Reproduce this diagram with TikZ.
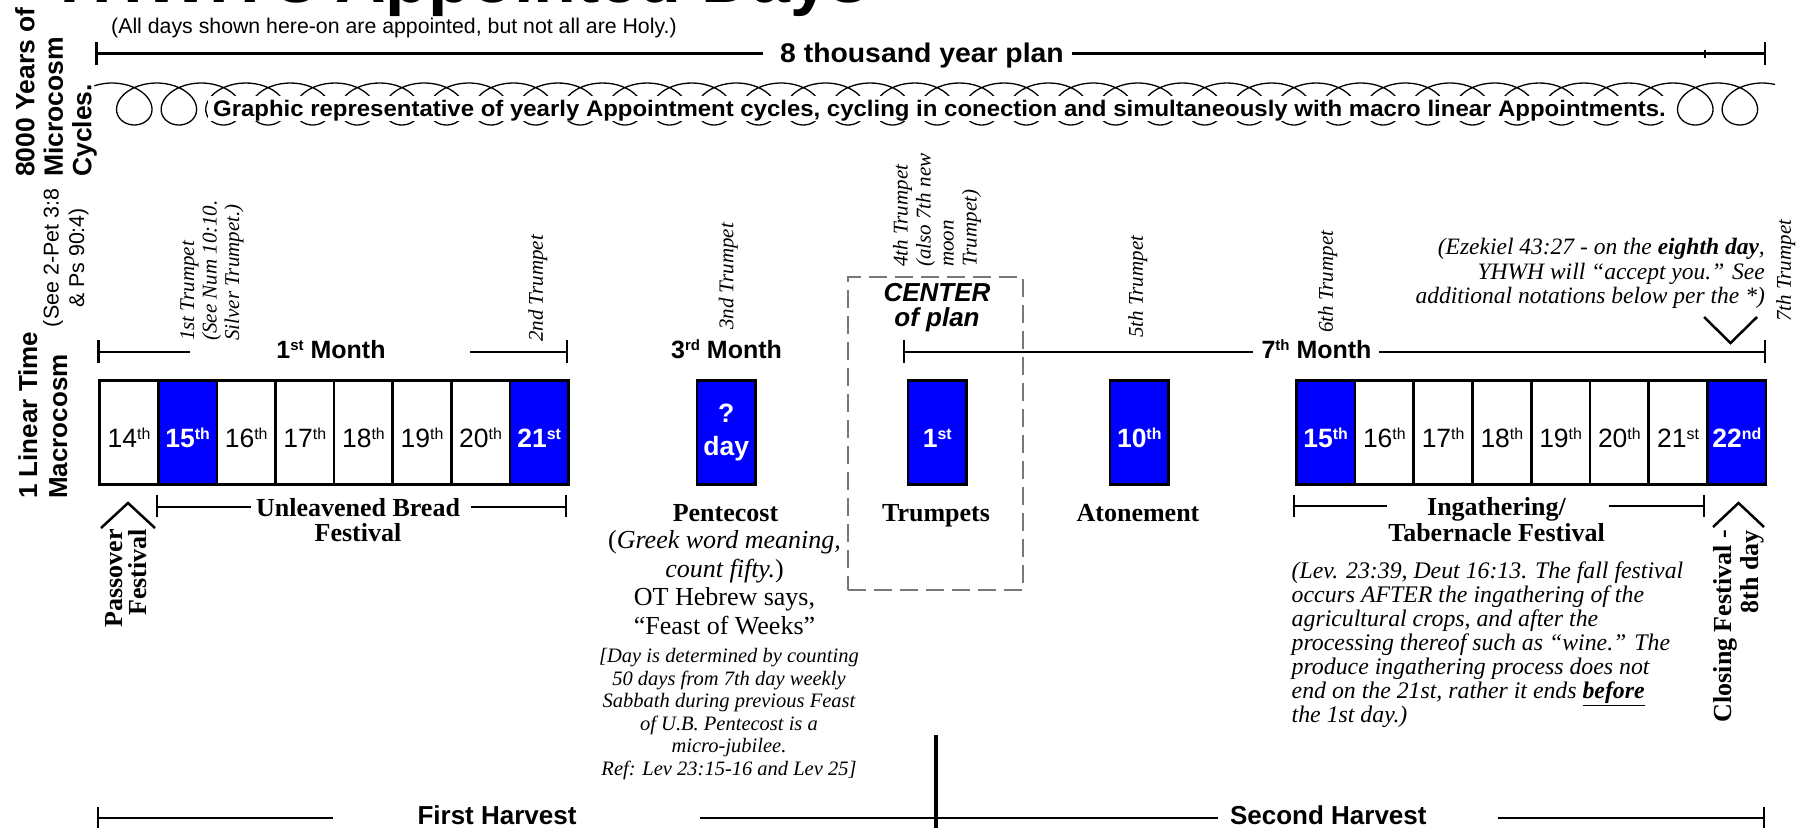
\documentclass[tikz,border=0pt]{standalone}
\usepackage{fontspec}
\usepackage{graphicx}
\setmainfont{Liberation Serif}
\newfontfamily\arialf{Liberation Sans}
\definecolor{dayblue}{RGB}{0,0,255}
\definecolor{framegray}{RGB}{120,120,120}
\newcommand{\fs}[2]{\fontsize{#1}{#2}\selectfont}
\newcommand{\sps}[1]{\raisebox{0.31em}{\scalebox{0.6}{#1}}}
\tikzset{
  brk/.style={line width=2.5pt},
  daybox/.style={draw=black, line width=2.5pt, minimum width=58.7pt, minimum height=104pt, inner sep=0pt, anchor=north west, text height=30pt, text depth=0pt, font=\arialf\fs{26.5}{30}},
  holybox/.style={daybox, fill=dayblue, text=white, font=\arialf\bfseries\fs{26.5}{30}},
  trump/.style={rotate=90, anchor=north west, inner sep=0pt, align=left, font=\itshape\fs{21}{22.5}},
  month/.style={anchor=base, inner sep=0pt, font=\arialf\bfseries\fs{25}{30}},
  feast/.style={anchor=base, inner sep=0pt, font=\bfseries\fs{26}{26}},
  harvest/.style={anchor=base, inner sep=0pt, font=\arialf\bfseries\fs{26}{28}},
}
\begin{document}
\begin{tikzpicture}[x=1pt,y=-1pt]
\useasboundingbox (0,0) rectangle (1798,828);
\fill[white] (0,0) rectangle (1798,828);

% title and subtitle
\node[anchor=base west, inner sep=0pt, font=\arialf\bfseries\fs{68}{70}] (title) at (46,2.5) {\scalebox{1.03}[1]{YHWH’s Appointed Days}};
\node[anchor=base west, inner sep=0pt, font=\arialf\fs{21.3}{24}] (subtitle) at (111,33) {(All days shown here-on are appointed, but not all are Holy.)};

% left side labels
\node[rotate=90, anchor=north west, inner sep=0pt, align=left, font=\arialf\bfseries\fs{26.5}{28.5}] (micro) at (15,177) {8000 Years of\\Microcosm\\Cycles.};
\node[rotate=90, anchor=north west, inner sep=0pt, align=left, font=\arialf\bfseries\fs{26}{30}] (linear) at (18,499) {1 Linear Time\\Macrocosm};
\node[rotate=90, anchor=north, inner sep=0pt, align=center, font=\arialf\fs{21.4}{25.5}] (seepet) at (43,258) {(See 2-Pet 3:8\\\& Ps 90:4)};

% 8 thousand year plan bracket
\coordinate (pL) at (96.4,53.5);
\coordinate (pA) at (763,53.5);
\coordinate (pB) at (1072,53.5);
\coordinate (pM) at (1705,53.5);
\coordinate (pR) at (1765,53.5);
\node[anchor=base, inner sep=0pt, font=\arialf\bfseries\fs{27}{30}] (plan) at (922,62) {\scalebox{1.05}[1]{8 thousand year plan}};
\draw[brk] (pL) -- (pA) (pB) -- (pR);
\draw[brk] ([yshift=11.5pt]pL) -- ([yshift=-11.5pt]pL);
\draw[brk] ([yshift=11.5pt]pR) -- ([yshift=-11.5pt]pR);
\draw[line width=1.2pt] ([yshift=4pt]pM) -- ([yshift=-4pt]pM);

% coil of yearly cycles
\begin{scope}
\clip (0,0) rectangle (1775,828);
\draw[line width=1.3pt] plot[domain=-30:13400, samples=1600] ({112+0.123889*\x+28*sin(\x)},{104-21*cos(\x)});
\end{scope}
\node[fill=white, inner xsep=5pt, inner ysep=0pt, minimum height=25pt, text height=17pt, text depth=1pt, font=\arialf\bfseries\fs{22.5}{26}] (graphic) at (939.5,108.5) {\scalebox{1.065}[1]{Graphic representative of yearly Appointment cycles, cycling in conection and simultaneously with macro linear Appointments.}};

% trumpets
\node[trump] (t1) at (180,341) {1st Trumpet\\(See Num 10:10.\\Silver Trumpet.)};
\node[trump] (t2) at (528,342) {2nd Trumpet};
\node[trump] (t3) at (718.6,330) {3nd Trumpet};
\node[trump, font=\itshape\fs{21}{23}] (t4) at (892.8,267) {4th Trumpet\\(also 7th new\\moon\\Trumpet)};
\node[trump] (t5) at (1128,338) {5th Trumpet};
\node[trump] (t6) at (1318,333) {6th Trumpet};
\node[trump] (t7) at (1776,322) {7th Trumpet};

% Ezekiel note
\node[anchor=north east, inner sep=0pt, align=right, font=\itshape\fs{23.5}{24.5}] (ezek) at (1765,238) {(Ezekiel 43:27 - on the \textbf{eighth day},\\YHWH will “accept you.” See\\additional notations below per the *)};
\coordinate (vA) at (1704,317);
\coordinate (vB) at (1730.5,343);
\coordinate (vC) at (1757,317);
\draw[brk] (vA) -- (vB) -- (vC);

% center frame
\node[draw=framegray, dash pattern=on 18pt off 8pt, line width=2.5pt, minimum width=175pt, minimum height=313pt, inner sep=0pt] (frame) at (935.5,433.5) {};
\node[anchor=north, inner sep=0pt, align=center, font=\arialf\bfseries\itshape\fs{26}{25}] (centerlbl) at (937,283.4) {CENTER\\of plan};

% month brackets
\coordinate (m1L) at (98.4,352);
\coordinate (m1a) at (190,352);
\coordinate (m1b) at (470,352);
\coordinate (m1R) at (567,352);
\node[month] (m1) at (331,358.5) {1\sps{st} Month};
\draw[brk] (m1L) -- (m1a) (m1b) -- (m1R);
\draw[brk] ([yshift=12pt]m1L) -- ([yshift=-11pt]m1L);
\draw[brk] ([yshift=12pt]m1R) -- ([yshift=-11pt]m1R);
\node[month] (m3) at (726.5,358.5) {3\sps{rd} Month};
\coordinate (m7L) at (904,352);
\coordinate (m7a) at (1253,352);
\coordinate (m7b) at (1379,352);
\coordinate (m7R) at (1765,352);
\node[month] (m7) at (1316.5,358.5) {7\sps{th} Month};
\draw[brk] (m7L) -- (m7a) (m7b) -- (m7R);
\draw[brk] ([yshift=12pt]m7L) -- ([yshift=-11pt]m7L);
\draw[brk] ([yshift=12pt]m7R) -- ([yshift=-11pt]m7R);

% day boxes, first month
\node[daybox] (d14) at (98.4,379) {14\sps{th}};
\node[holybox] (d15) at (157,379) {15\sps{th}};
\node[daybox] (d16) at (215.6,379) {16\sps{th}};
\node[daybox] (d17) at (274.2,379) {17\sps{th}};
\node[daybox] (d18) at (332.8,379) {18\sps{th}};
\node[daybox] (d19) at (391.4,379) {19\sps{th}};
\node[daybox] (d20) at (450,379) {20\sps{th}};
\node[holybox] (d21) at (508.6,379) {21\sps{st}};

% single days
\node[holybox] (dq) at (695.65,379) {};
\node[inner sep=0pt, align=center, text=white, font=\arialf\bfseries\fs{26.5}{33}] (dqt) at (dq.center) {?\\day};
\node[holybox] (s1) at (906.65,379) {1\sps{st}};
\node[holybox] (s10) at (1108.65,379) {10\sps{th}};

% day boxes, seventh month
\node[holybox] (e15) at (1295,379) {15\sps{th}};
\node[daybox] (e16) at (1353.75,379) {16\sps{th}};
\node[daybox] (e17) at (1412.5,379) {17\sps{th}};
\node[daybox] (e18) at (1471.25,379) {18\sps{th}};
\node[daybox] (e19) at (1530,379) {19\sps{th}};
\node[daybox] (e20) at (1588.75,379) {20\sps{th}};
\node[daybox] (e21) at (1647.5,379) {21\sps{st}};
\node[holybox] (e22) at (1706.25,379) {22\sps{nd}};

% Unleavened bread
\coordinate (ubL) at (157,507);
\coordinate (uba) at (251,507);
\coordinate (ubb) at (471,507);
\coordinate (ubR) at (566,507);
\node[anchor=north, inner sep=0pt, align=center, font=\bfseries\fs{26}{25}] (ub) at (358,498.4) {Unleavened Bread\\Festival};
\draw[brk] (ubL) -- (uba) (ubb) -- (ubR);
\draw[brk] ([yshift=12pt]ubL) -- ([yshift=-10pt]ubL);
\draw[brk] ([yshift=12pt]ubR) -- ([yshift=-10pt]ubR);

% Passover
\coordinate (pvA) at (101,528);
\coordinate (pvB) at (128,503);
\coordinate (pvC) at (155,528);
\draw[brk] (pvA) -- (pvB) -- (pvC);
\node[rotate=90, anchor=north east, inner sep=0pt, align=right, font=\bfseries\fs{26}{24.5}] (passover) at (105,529) {Passover\\Festival};

% feast names
\node[feast] (pent) at (725.5,521) {Pentecost};
\node[feast] (trumps) at (936,521) {Trumpets};
\node[feast] (aton) at (1138,521) {Atonement};
\node[anchor=north, inner sep=0pt, align=center, font=\fs{26}{28.5}] (pdesc) at (724.5,530.4) {(\textit{Greek word meaning,}\\\textit{count fifty.})\\OT Hebrew says,\\“Feast of Weeks”};
\node[anchor=north, inner sep=0pt, align=center, font=\itshape\fs{20.5}{22.6}] (pnote) at (729,648) {[Day is determined by counting\\50 days from 7th day weekly\\Sabbath during previous Feast\\of U.B. Pentecost is a\\micro-jubilee.\\Ref: Lev 23:15-16 and Lev 25]};

% Ingathering
\coordinate (igL) at (1294,506);
\coordinate (iga) at (1387,506);
\coordinate (igb) at (1609,506);
\coordinate (igR) at (1704,506);
\node[anchor=north, inner sep=0pt, align=center, font=\bfseries\fs{26}{26}] (ing) at (1496.5,497.4) {Ingathering/\\Tabernacle Festival};
\draw[brk] (igL) -- (iga) (igb) -- (igR);
\draw[brk] ([yshift=11pt]igL) -- ([yshift=-11pt]igL);
\draw[brk] ([yshift=11pt]igR) -- ([yshift=-11pt]igR);
\node[anchor=north west, inner sep=0pt, align=left, font=\itshape\fs{23.8}{24}] (ingp) at (1291.5,562) {(Lev. 23:39, Deut 16:13. The fall festival\\occurs AFTER the ingathering of the\\agricultural crops, and after the\\processing thereof such as “wine.” The\\produce ingathering process does not\\end on the 21st, rather it ends \textbf{\underline{before}}\\the 1st day.)};

% Closing festival
\coordinate (cvA) at (1713,527);
\coordinate (cvB) at (1738.5,503);
\coordinate (cvC) at (1764,527);
\draw[brk] (cvA) -- (cvB) -- (cvC);
\node[rotate=90, anchor=north east, inner sep=0pt, align=right, font=\bfseries\fs{26}{27.5}] (closing) at (1713,530) {Closing Festival -\\8th day};

% harvest line
\coordinate (cTop) at (935.6,735);
\coordinate (cBot) at (935.6,828);
\draw[line width=4pt] (cTop) -- (cBot);
\coordinate (hL) at (98,818);
\coordinate (ha) at (333,818);
\coordinate (hb) at (699.5,818);
\coordinate (hc) at (1218,818);
\coordinate (hd) at (1497.5,818);
\coordinate (hR) at (1764,818);
\draw[brk] (hL) -- (ha) (hb) -- (hc) (hd) -- (hR);
\draw[brk] ([yshift=11pt]hL) -- ([yshift=-10pt]hL);
\draw[brk] ([yshift=11pt]hR) -- ([yshift=-10pt]hR);
\node[harvest] (fh) at (497,824) {First Harvest};
\node[harvest] (sh) at (1328.3,824) {Second Harvest};
\end{tikzpicture}
\end{document}
